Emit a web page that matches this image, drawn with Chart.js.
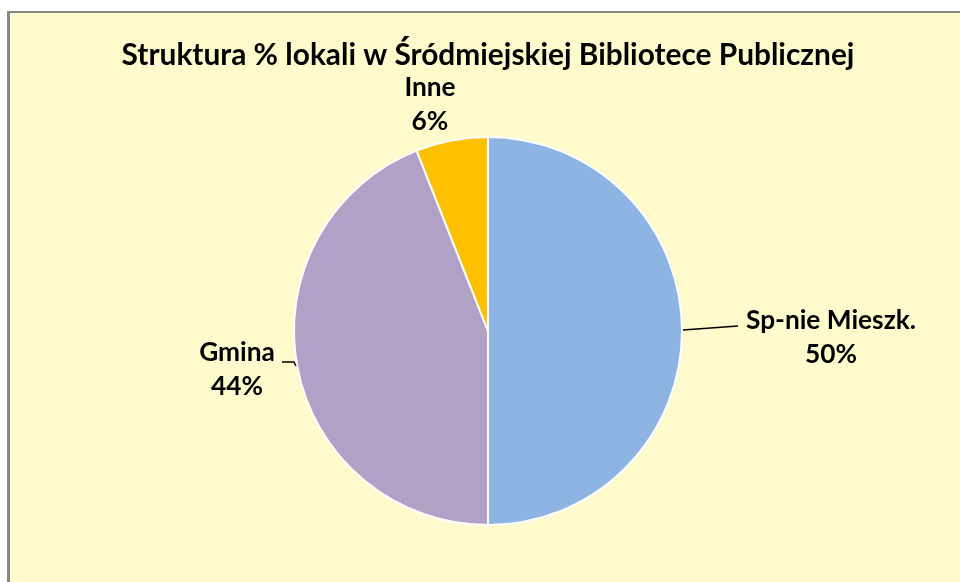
<!DOCTYPE html>
<html lang="pl">
<head>
  <meta charset="UTF-8">
  <title>Struktura % lokali</title>
  <script src="https://cdn.jsdelivr.net/npm/chart.js@4"></script>
  <style>
    html, body { margin: 0; padding: 0; background: #fff; overflow: hidden; }
    #frame {
      position: absolute; left: 7px; top: 11px; width: 1000px; height: 700px;
      background: #FFFBCC; border-left: 3px solid #868686; border-top: 2px solid #868686;
    }
    #pie { position: absolute; left: 0; top: 0; }
  </style>
</head>
<body>
  <div id="frame"></div>
  <canvas id="pie" width="960" height="582"></canvas>
  <script>
    const title = 'Struktura % lokali w Śródmiejskiej Bibliotece Publicznej';
    const categories = ['Sp-nie Mieszk.', 'Gmina', 'Inne'];
    const shares = [50, 44, 6];
    const colors = ['#8EB4E3', '#B2A1C7', '#FFC000'];

    // label placement relative to the pie centre, plus optional leader line
    const labelPos = [
      { dx: 343, dy: -10, line: [[195, -1], [250, -5]] },
      { dx: -251, dy: 22, line: [[-192, 35], [-194, 31], [-206, 31]] },
      { dx: -58, dy: -243, line: null }
    ];

    const fitFont = (ctx, text, target, guess) => {
      ctx.font = `bold ${guess}px Lato`;
      const s = guess * target / ctx.measureText(text).width;
      return `bold ${s.toFixed(2)}px Lato`;
    };

    const labelsPlugin = {
      id: 'labels',
      afterDraw(chart) {
        const ctx = chart.ctx;
        const arc0 = chart.getDatasetMeta(0).data[0];
        const cx = arc0.x, cy = arc0.y;

        ctx.save();
        ctx.fillStyle = '#000';
        ctx.textAlign = 'center';
        ctx.textBaseline = 'middle';
        ctx.font = fitFont(ctx, title, 733, 26);
        ctx.fillText(title, 488, 55);

        const labelFont = fitFont(ctx, categories[0], 170, 22);
        const total = shares.reduce((a, b) => a + b, 0);
        categories.forEach((name, i) => {
          const p = labelPos[i];
          if (p.line) {
            ctx.strokeStyle = '#000';
            ctx.lineWidth = 1.5;
            ctx.beginPath();
            p.line.forEach(([x, y], k) => k ? ctx.lineTo(cx + x, cy + y) : ctx.moveTo(cx + x, cy + y));
            ctx.stroke();
          }
          ctx.font = labelFont;
          const pct = Math.round(shares[i] / total * 100) + '%';
          ctx.fillText(name, cx + p.dx, cy + p.dy);
          ctx.fillText(pct, cx + p.dx, cy + p.dy + 34);
        });
        ctx.restore();
      }
    };

    new Chart(document.getElementById('pie'), {
      type: 'pie',
      data: {
        labels: categories,
        datasets: [{
          data: shares,
          backgroundColor: colors,
          borderColor: '#ffffff',
          borderWidth: 2
        }]
      },
      options: {
        responsive: false,
        animation: false,
        layout: { padding: { top: 136, bottom: 56, left: 293, right: 277 } },
        plugins: {
          legend: { display: false },
          tooltip: { enabled: false }
        }
      },
      plugins: [labelsPlugin]
    });
  </script>
</body>
</html>
